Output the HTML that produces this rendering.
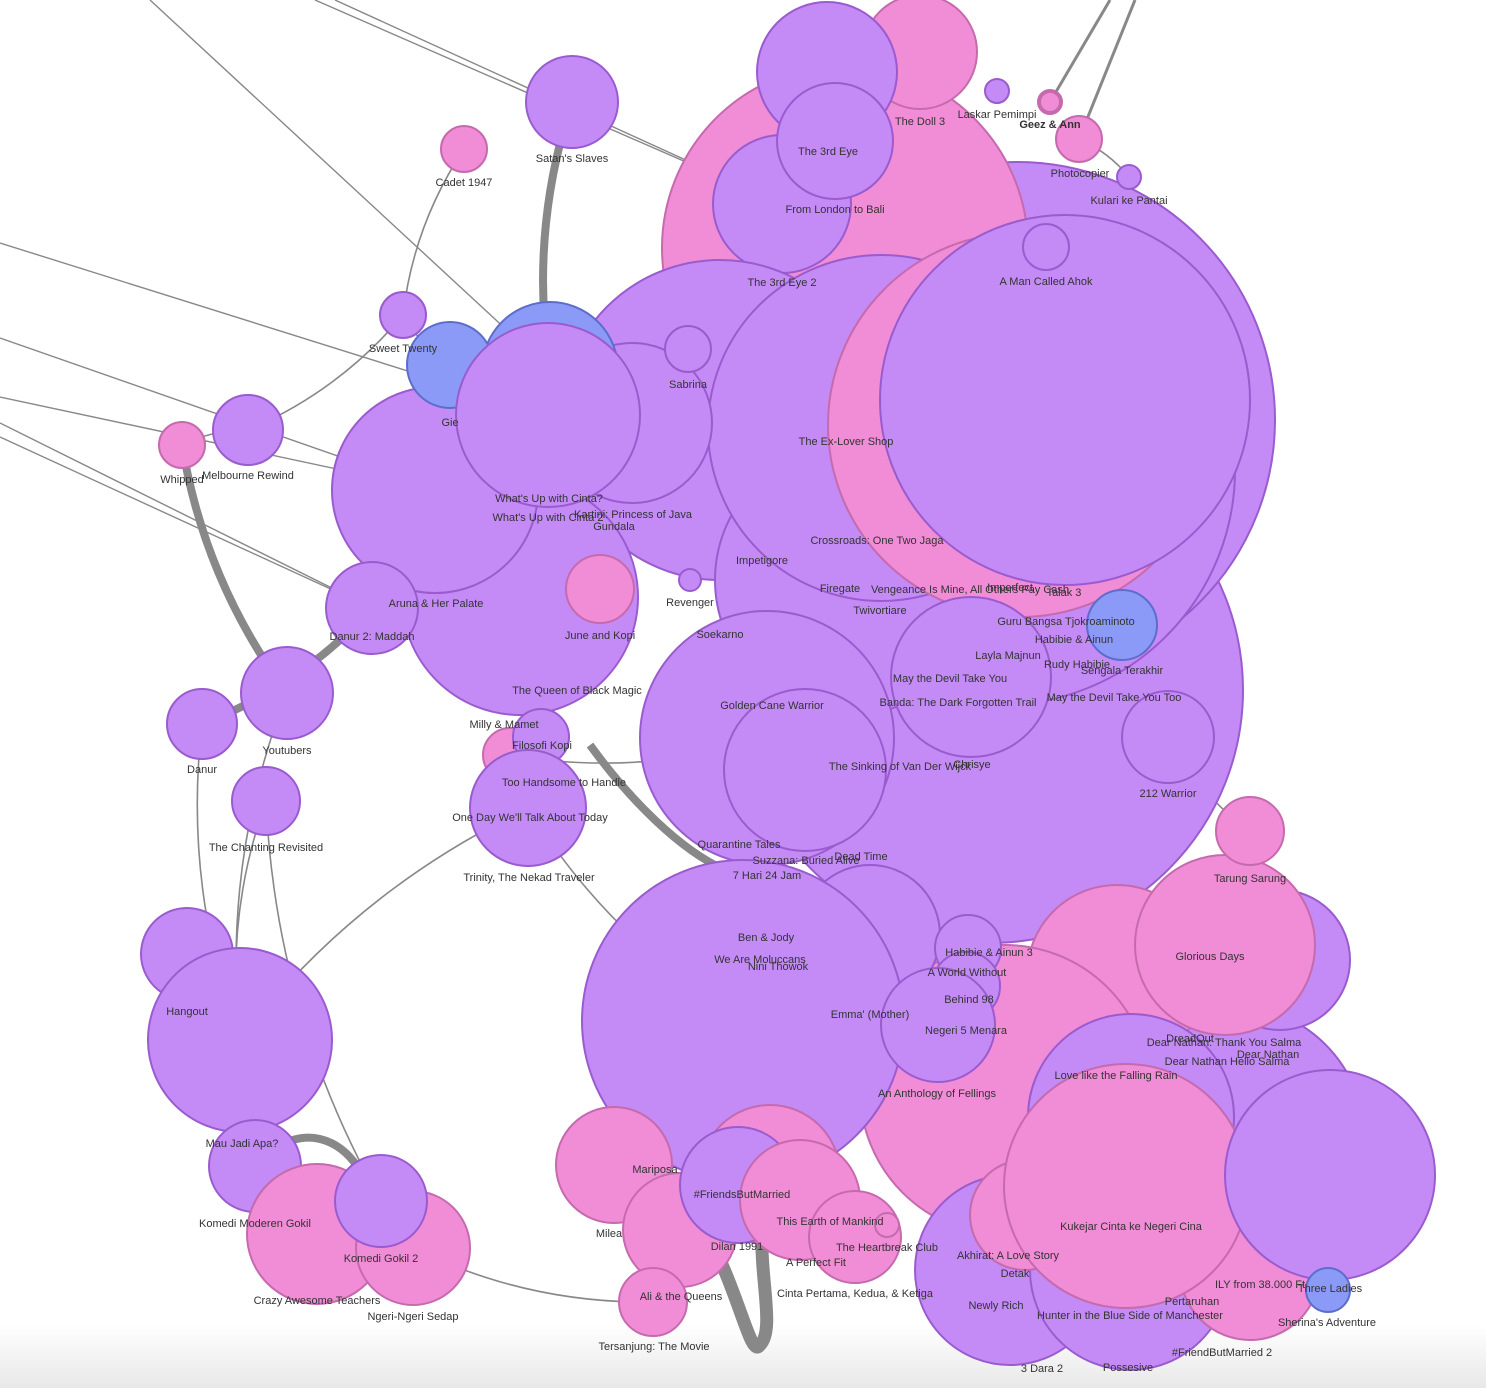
<!DOCTYPE html>
<html><head><meta charset="utf-8">
<style>
html,body{margin:0;padding:0;background:#fff;}
svg{display:block;}
text{font-family:"Liberation Sans",sans-serif;font-size:11px;fill:#333;text-anchor:middle;dominant-baseline:middle;}
</style></head>
<body>
<svg id="chart" width="1486" height="1388" viewBox="0 0 1486 1388" xmlns="http://www.w3.org/2000/svg">
<defs>
<linearGradient id="bottomFade" x1="0" y1="0" x2="0" y2="1">
<stop offset="0" stop-color="#ffffff"/><stop offset="1" stop-color="#e8e8e8"/>
</linearGradient>
</defs>
<rect x="0" y="0" width="1486" height="1388" fill="#fff"/>
<rect x="0" y="1325" width="1486" height="63" fill="url(#bottomFade)"/>
<g id="edges"></g>
<g id="nodes"></g>
<g id="labels"></g>
</svg>
<script>
// node layout data: x, y, radius, genre group (0 purple, 1 pink, 2 blue)
const nodeX = [990,1017,1000,845,920,827,782,835,720,850,881,1020,1065,1046,
  520,435,632,550,450,548,688,690,600,372,510,541,528,
  464,572,403,248,182,287,202,266,187,240,255,317,413,381,
  997,1050,1079,1129,
  767,805,971,1168,1122,1230,1280,1117,1225,1250,1005,1010,1130,1250,1025,1131,1126,1330,1328,
  870,743,968,966,938,770,614,680,738,800,855,887,653];
const nodeY = [690,420,470,248,52,72,204,141,420,580,428,425,400,247,
  597,490,423,370,365,415,349,580,589,608,755,737,808,
  149,102,315,430,445,693,724,801,954,1040,1166,1234,1248,1201,
  91,102,139,177,
  738,770,677,737,625,1140,960,975,945,831,1090,1270,1270,1270,1215,1117,1186,1175,1290,
  935,1021,948,986,1025,1175,1165,1230,1185,1200,1237,1225,1302];
const nodeR = [253,258,235,183,57,70,69,58,160,135,173,192,185,23,
  118,103,80,68,43,92,23,11,34,46,27,28,58,
  23,46,23,35,23,46,35,34,46,92,46,70,57,46,
  12,11,23,12,
  127,81,80,46,35,135,70,90,90,34,145,95,100,70,55,103,122,105,22,
  70,161,33,34,57,70,58,57,58,60,46,12,34];
const nodeGroup = [0,0,0,1,1,0,0,0,0,0,0,1,0,0,
  0,0,0,2,2,0,0,0,1,0,1,0,0,
  1,0,0,0,1,0,0,0,0,0,0,1,1,0,
  0,1,1,0,
  0,0,0,0,2,0,0,1,1,1,1,0,0,1,1,0,1,0,2,
  0,0,0,0,0,1,1,1,0,1,1,1,1];

// edges: [source node index, target node index, weight]
const edgeSource = [28,31,33,37,26,27,29,30,30,32,34,35,26,24,39,72,76,48,36,34,33,44];
const edgeTarget = [17,32,23,40,36,29,18,29,31,36,36,36,65,45,76,76,72,54,35,40,36,43];
const edgeWeight = [5,5,5,5,1,1,1,1,1,1,1,1,1,1,1,1,1,1,1,1,1,1];
// edges leaving the frame: [start x, start y, target node index]
const outX = [150,315,335,0,0,0,0,0,1110,1135];
const outY = [0,0,0,243,338,397,423,437,0,0];
const outTarget = [17,6,6,19,15,15,23,23,42,43];

const labelText = ["Satan's Slaves","Cadet 1947","The Doll 3","Laskar Pemimpi","Geez & Ann","Photocopier","Kulari ke Pantai","The 3rd Eye","From London to Bali","The 3rd Eye 2","A Man Called Ahok","Sweet Twenty","Sabrina","Gie","Whipped","Melbourne Rewind","The Ex-Lover Shop","What's Up with Cinta?","What's Up with Cinta 2","Kartini: Princess of Java","Gundala","Crossroads: One Two Jaga","Impetigore","Firegate","Vengeance Is Mine, All Others Pay Cash","Imperfect","Talak 3","Revenger","Aruna & Her Palate","Twivortiare","Danur 2: Maddah","June and Kopi","Soekarno","Guru Bangsa Tjokroaminoto","Habibie & Ainun","Layla Majnun","Rudy Habibie","Sengala Terakhir","May the Devil Take You","The Queen of Black Magic","May the Devil Take You Too","Banda: The Dark Forgotten Trail","Golden Cane Warrior","Milly & Mamet","Youtubers","Filosofi Kopi","Danur","Chrisye","The Sinking of Van Der Wijck","Too Handsome to Handle","212 Warrior","One Day We'll Talk About Today","Quarantine Tales","The Chanting Revisited","Suzzana: Buried Alive","Dead Time","7 Hari 24 Jam","Trinity, The Nekad Traveler","Tarung Sarung","Ben & Jody","We Are Moluccans","Nini Thowok","Habibie & Ainun 3","Glorious Days","A World Without","Behind 98","Hangout","Emma' (Mother)","Negeri 5 Menara","DreadOut","Dear Nathan: Thank You Salma","Dear Nathan","Dear Nathan Hello Salma","Love like the Falling Rain","An Anthology of Fellings","Mau Jadi Apa?","Mariposa","#FriendsButMarried","This Earth of Mankind","Komedi Moderen Gokil","Kukejar Cinta ke Negeri Cina","Milea","Dilan 1991","The Heartbreak Club","Akhirat: A Love Story","Komedi Gokil 2","A Perfect Fit","Detak","ILY from 38.000 Ft","Three Ladies","Ali & the Queens","Cinta Pertama, Kedua, & Ketiga","Crazy Awesome Teachers","Pertaruhan","Newly Rich","Ngeri-Ngeri Sedap","Hunter in the Blue Side of Manchester","Sherina's Adventure","Tersanjung: The Movie","#FriendButMarried 2","3 Dara 2","Possesive"];
const labelX = [572,464,920,997,1050,1080,1129,828,835,782,1046,403,688,450,182,248,846,549,548,633,614,877,762,840,970,1010,1064,690,436,880,372,600,720,1066,1074,1008,1077,1122,950,577,1114,958,772,504,287,542,202,972,900,564,1168,530,739,266,806,861,767,529,1250,766,760,778,989,1210,967,969,187,870,966,1190,1224,1268,1227,1116,937,242,655,742,830,255,1131,609,737,887,1008,381,816,1015,1260,1330,681,855,317,1192,996,413,1130,1327,654,1222,1042,1128];
const labelY = [159,183,122,115,125,174,201,152,210,283,282,349,385,423,480,476,442,499,518,515,527,541,561,589,590,588,593,603,604,611,637,636,635,622,640,656,665,671,679,691,698,703,706,725,751,746,770,765,767,783,794,818,845,848,861,857,876,878,879,938,960,967,953,957,973,1000,1012,1015,1031,1039,1043,1055,1062,1076,1094,1144,1170,1195,1222,1224,1227,1234,1247,1248,1256,1259,1263,1274,1285,1289,1297,1294,1301,1302,1306,1317,1316,1323,1347,1353,1369,1368];

const NS = 'http://www.w3.org/2000/svg';
const fills = ['#c48bf6','#f08dd6','#8b9af6'];
const strokes = ['#9a5bcf','#c66aae','#5d6dcb'];
const eg = document.getElementById('edges');
const ng = document.getElementById('nodes');
const lg = document.getElementById('labels');

function curve(x1,y1,x2,y2,bend){
  const mx=(x1+x2)/2, my=(y1+y2)/2, dx=x2-x1, dy=y2-y1;
  return 'M'+x1+','+y1+' Q'+(mx-dy*bend)+','+(my+dx*bend)+' '+x2+','+y2;
}
for(let i=0;i<edgeSource.length;i++){
  const a=edgeSource[i], b=edgeTarget[i];
  const p=document.createElementNS(NS,'path');
  p.setAttribute('d',curve(nodeX[a],nodeY[a],nodeX[b],nodeY[b],0.12));
  p.setAttribute('fill','none');
  p.setAttribute('stroke','#888');
  p.setAttribute('stroke-width',edgeWeight[i]*1.6);
  p.setAttribute('stroke-linecap','round');
  
  
  eg.appendChild(p);
}
for(let i=0;i<outX.length;i++){
  const b=outTarget[i];
  const p=document.createElementNS(NS,'path');
  p.setAttribute('d',curve(outX[i],outY[i],nodeX[b],nodeY[b],0));
  p.setAttribute('fill','none');
  p.setAttribute('stroke','#888');
  p.setAttribute('stroke-width', i>=8 ? 3 : 1.4);
  
  
  eg.appendChild(p);
}
// extra thick curved links
const thick = document.createElementNS(NS,'path');
thick.setAttribute('d','M700,1220 C740,1290 750,1360 760,1345 C775,1330 760,1280 762,1230');
thick.setAttribute('fill','none');thick.setAttribute('stroke','#888');thick.setAttribute('stroke-width','13');


eg.appendChild(thick);
const thick2 = document.createElementNS(NS,'path');
thick2.setAttribute('d','M590,745 C630,800 680,850 725,870');
thick2.setAttribute('fill','none');thick2.setAttribute('stroke','#888');thick2.setAttribute('stroke-width','8');


eg.appendChild(thick2);
const thick3 = document.createElementNS(NS,'path');
thick3.setAttribute('d','M280,1145 C320,1125 350,1150 362,1175');
thick3.setAttribute('fill','none');thick3.setAttribute('stroke','#888');thick3.setAttribute('stroke-width','8');


eg.appendChild(thick3);

for(let i=0;i<nodeX.length;i++){
  const c=document.createElementNS(NS,'circle');
  c.setAttribute('cx',nodeX[i]);
  c.setAttribute('cy',nodeY[i]);
  c.setAttribute('r',nodeR[i]);
  c.setAttribute('fill',fills[nodeGroup[i]]);
  c.setAttribute('stroke',strokes[nodeGroup[i]]);
  c.setAttribute('stroke-width', i===42 ? 4 : 2);
  
  
  ng.appendChild(c);
}
for(let i=0;i<labelText.length;i++){
  const t=document.createElementNS(NS,'text');
  t.setAttribute('x',labelX[i]);
  t.setAttribute('y',labelY[i]);
  if(labelText[i]==='Geez & Ann') t.setAttribute('font-weight','bold');
  t.textContent=labelText[i];
  
  
  lg.appendChild(t);
}
</script>
</body></html>
